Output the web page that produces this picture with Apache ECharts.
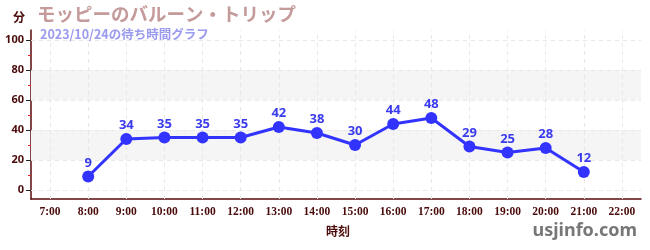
<!DOCTYPE html>
<html><head><meta charset="utf-8">
<script src="https://cdn.jsdelivr.net/npm/echarts@6/dist/echarts.min.js"></script>
<style>html,body{margin:0;padding:0;background:#fff}#c{width:650px;height:250px}</style>
</head><body><div id="c"></div>
<script>
const categories = ['7:00','8:00','9:00','10:00','11:00','12:00','13:00','14:00','15:00','16:00','17:00','18:00','19:00','20:00','21:00','22:00'];
const waitTimes = [null, 9, 34, 35, 35, 35, 42, 38, 30, 44, 48, 29, 25, 28, 12, null];
const yTickValues = [0, 20, 40, 60, 80, 100];
const yMinorTickValues = [10, 30, 50, 70, 90];
const shadedBands = [[20, 40], [60, 80]];

const maroon = '#4a0a0a';
const chart = echarts.init(document.getElementById('c'), null, {renderer: 'canvas'});
chart.setOption({
  animation: false,
  title: [
    {text: 'モッピーのバルーン・トリップ', left: 32, top: 0,
     textStyle: {color: '#c49a9a', fontSize: 18.5, fontWeight: 'bold', fontFamily: 'Noto Sans CJK JP'}},
    {text: '2023/10/24の待ち時間グラフ', left: 35, top: 23,
     textStyle: {color: '#9a9af0', fontSize: 12.5, fontWeight: 'bold', fontFamily: 'Noto Sans CJK JP'}},
    {text: '分', left: 8, top: 6,
     textStyle: {color: maroon, fontSize: 12, fontWeight: 'bold', fontFamily: 'Noto Sans CJK JP'}},
    {text: '時刻', left: 321, top: 220,
     textStyle: {color: maroon, fontSize: 12, fontWeight: 'bold', fontFamily: 'Noto Sans CJK JP'}},
    {text: 'usjinfo.com', right: 8, top: 217,
     textStyle: {color: '#777777', fontSize: 18, fontWeight: 'bold', fontFamily: 'Noto Sans'}}
  ],
  grid: {left: 31, right: 9, top: 30, bottom: 51, containLabel: false},
  xAxis: {
    type: 'category', data: categories, boundaryGap: true,
    axisLine: {onZero: false, lineStyle: {color: '#5a0a0a', width: 1.5}},
    axisTick: {alignWithLabel: true, lineStyle: {color: '#333'}, length: 4},
    axisLabel: {color: maroon, fontSize: 11.5, fontWeight: 'bold', fontFamily: 'Liberation Sans Narrow', margin: 7, interval: 0},
    splitLine: {show: false}
  },
  yAxis: [{
    type: 'value', min: -6, max: 320/3,
    axisLine: {show: true, lineStyle: {color: '#5a0a0a', width: 1.5}},
    axisTick: {show: true, customValues: yTickValues, length: 5, lineStyle: {color: '#222'}},
    axisLabel: {customValues: yTickValues, color: maroon, fontSize: 11, fontWeight: 'bold', fontFamily: 'Noto Sans', margin: 7},
    splitLine: {show: false}
  }, {
    type: 'value', min: -6, max: 320/3, position: 'left',
    axisLine: {show: false},
    axisTick: {show: true, customValues: yMinorTickValues, length: 3, lineStyle: {color: '#dd2222'}},
    axisLabel: {show: false, customValues: yMinorTickValues},
    splitLine: {show: false}
  }],
  series: [{
    type: 'line', data: waitTimes, yAxisIndex: 0,
    symbol: 'circle', symbolSize: 12,
    lineStyle: {color: '#3333ff', width: 3},
    itemStyle: {color: '#3333ff'},
    label: {show: true, position: 'top', distance: 1, color: '#3b3bee', fontSize: 13, fontWeight: 'bold', fontFamily: 'Noto Sans'},
    markArea: {silent: true, itemStyle: {color: '#f5f5f5'},
      data: shadedBands.map(b => [{yAxis: b[0]}, {yAxis: b[1]}])},
    markLine: {silent: true, symbol: 'none', label: {show: false},
      lineStyle: {color: '#e8e8e8', type: [4, 4], width: 1},
      data: yTickValues.map(v => ({yAxis: v})).concat(categories.map(c => ({xAxis: c})))},
    z: 5
  }]
});
</script></body></html>
